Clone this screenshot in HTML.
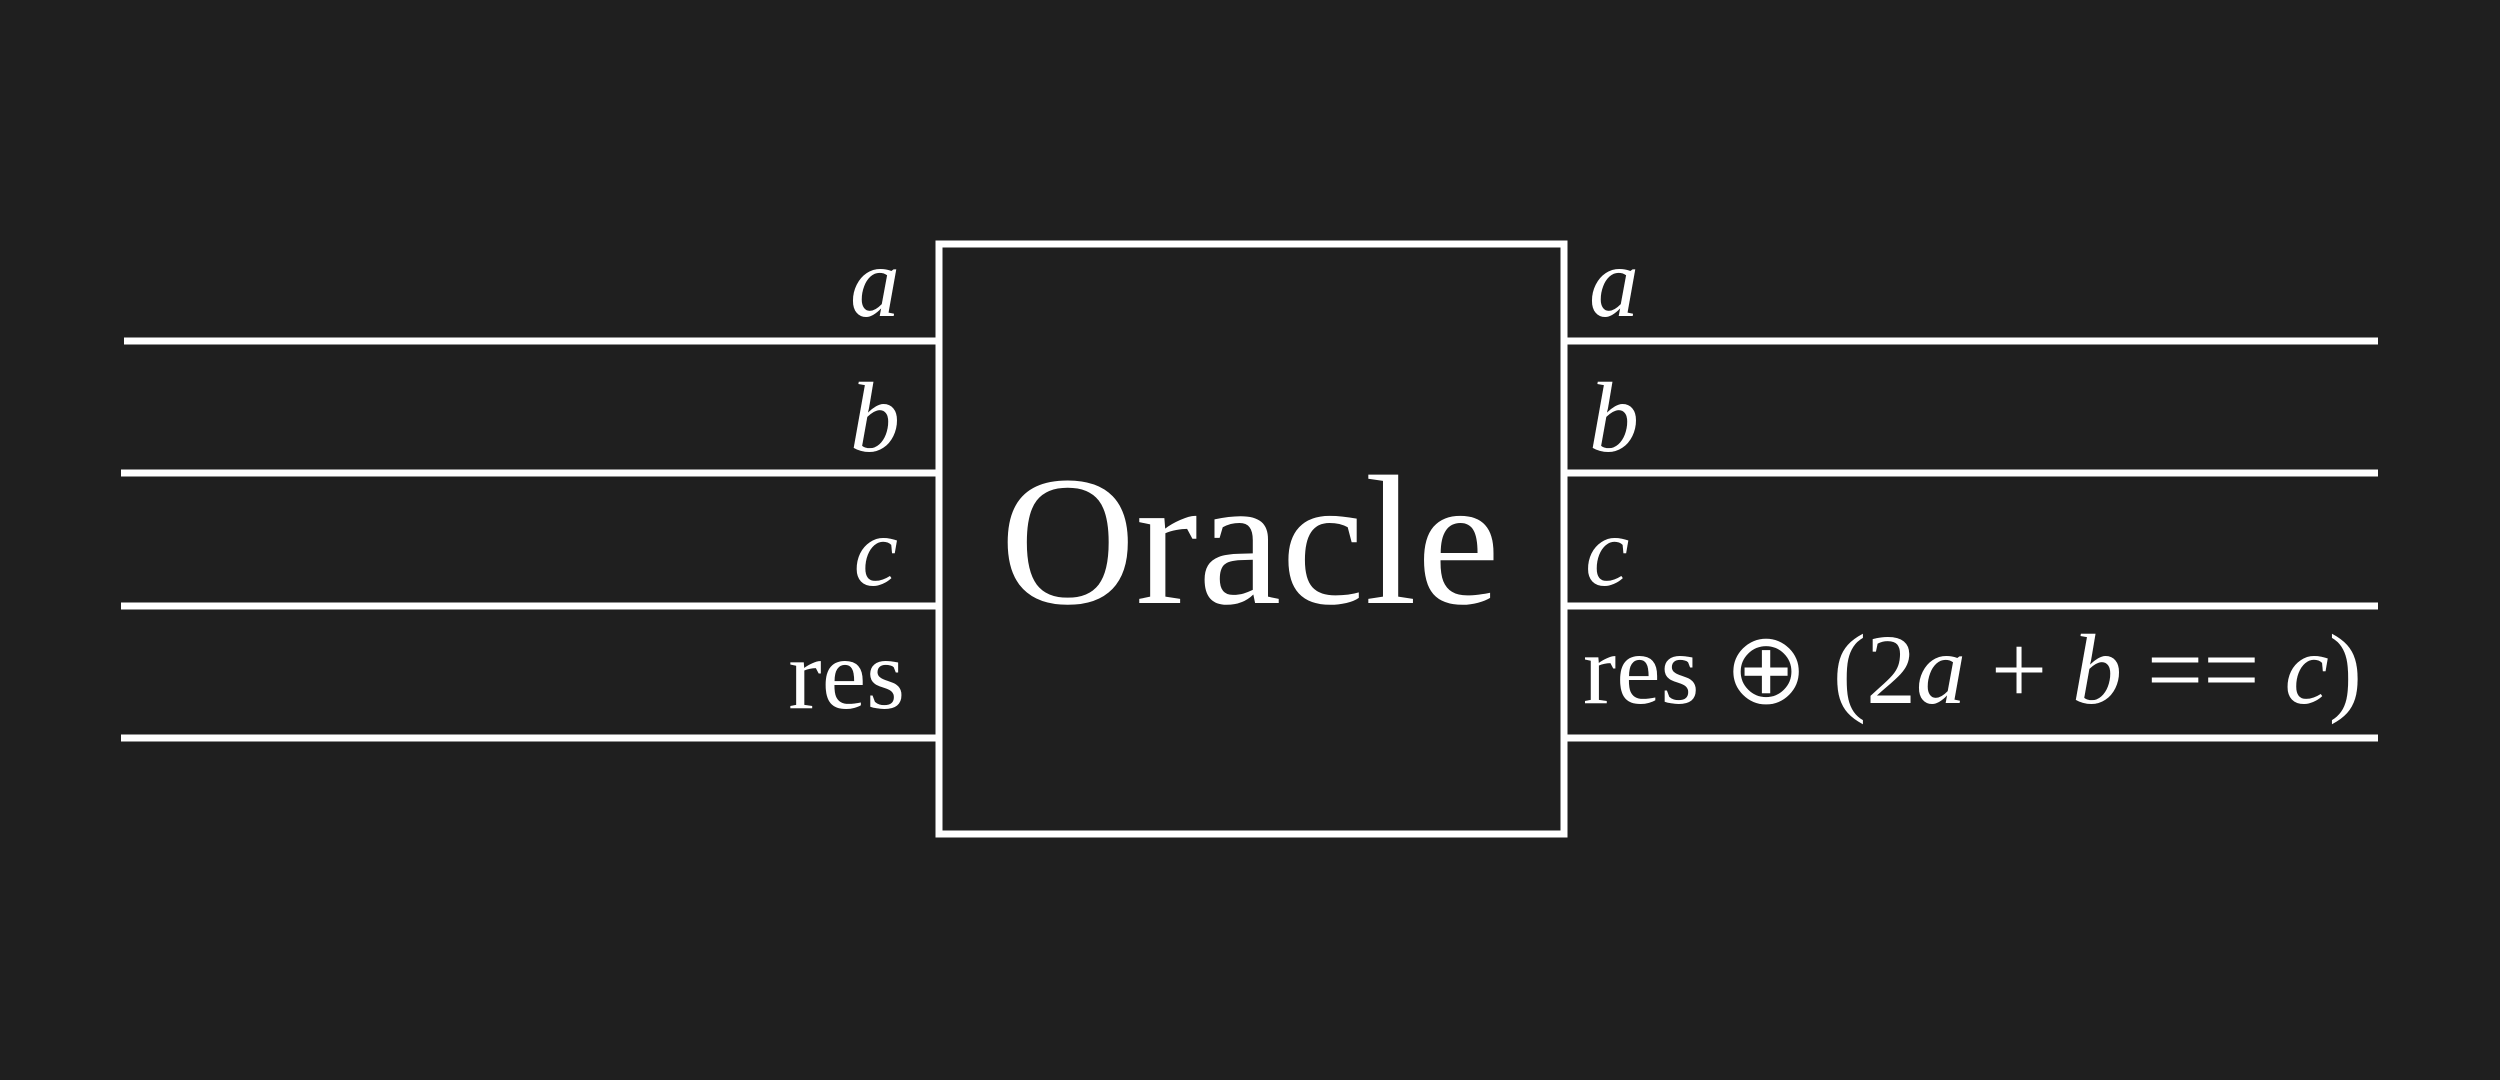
<!DOCTYPE html>
<html><head><meta charset="utf-8"><style>
html,body{margin:0;padding:0;background:#1f1f1f;width:2500px;height:1080px;overflow:hidden}
svg{display:block}
text{fill:#fff;font-family:"Liberation Serif",serif}
.i{font-style:italic}
</style></head><body>
<svg width="2500" height="1080" viewBox="0 0 2500 1080">
<rect width="2500" height="1080" fill="#1f1f1f"/>
<g stroke="#fff" stroke-width="7" fill="none">
<line x1="124" y1="341" x2="937" y2="341"/>
<line x1="121" y1="473" x2="937" y2="473"/>
<line x1="121" y1="606" x2="937" y2="606"/>
<line x1="121" y1="738" x2="937" y2="738"/>
<line x1="1564" y1="341" x2="2378" y2="341"/>
<line x1="1564" y1="473" x2="2378" y2="473"/>
<line x1="1564" y1="606" x2="2378" y2="606"/>
<line x1="1564" y1="738" x2="2378" y2="738"/>
<rect x="939" y="244" width="625" height="590"/>
</g>
<g font-size="100">
<text class="i" x="900" y="316" text-anchor="end">a</text>
<text class="i" x="900" y="451" text-anchor="end">b</text>
<text class="i" x="898" y="585" text-anchor="end">c</text>
<text x="905" y="708" text-anchor="end">res</text>
<text class="i" x="1589" y="316">a</text>
<text class="i" x="1589" y="451">b</text>
<text class="i" x="1585" y="585">c</text>
<text x="1583" y="703" textLength="779" lengthAdjust="spacingAndGlyphs">res ⊕ (2<tspan class="i">a</tspan> + <tspan class="i">b</tspan> == <tspan class="i">c</tspan>)</text>
</g>
<text x="1250" y="603" font-size="185" text-anchor="middle" textLength="500" lengthAdjust="spacingAndGlyphs">Oracle</text>
</svg>
</body></html>
